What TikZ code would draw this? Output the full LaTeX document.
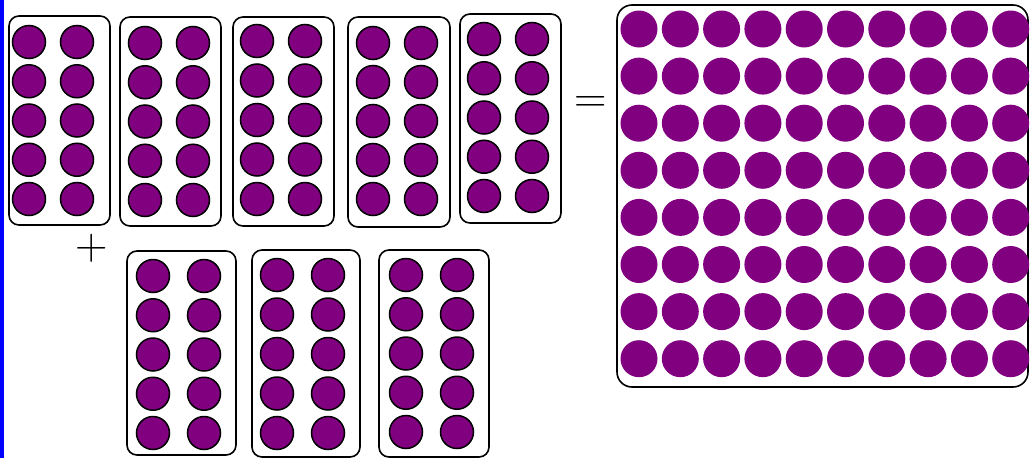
\documentclass[tikz,border=0pt]{standalone}
\usetikzlibrary{calc}
\definecolor{dotpurple}{RGB}{128,0,128}

\begin{document}
\begin{tikzpicture}[x=1pt,y=-1pt,
  frame/.style={draw, line width=1.6pt, rounded corners=10pt},
  dot/.style={draw, fill=dotpurple, line width=1.5pt},
  bigdot/.style={fill=dotpurple},
  sign/.style={font=\fontsize{45}{45}\selectfont, inner sep=0pt}]
  \useasboundingbox (0,0) rectangle (1030,458);
  \fill[blue] (0,0) rectangle (3.5,458);

  \foreach \xa/\ya/\xb/\yb/\ca/\cb/\ra/\dy in {
      9/16/110/225/29/77/42/39.25,
      120/17/221/226/145/193/43/39.25,
      233/17/334/226/257/305/41/39.5,
      348/17/450/227/373/421/43/39,
      460/14/561/223/484/532/39/39.25,
      127/251/236/455/153/204/276/39.25,
      252/250/360/457/277/328/275/39.5,
      379/250/489/457/406/457/275/39.25} {
    \draw[frame] (\xa,\ya) rectangle (\xb,\yb);
    \foreach \k in {0,...,4} {
      \draw[dot] (\ca,\ra+\k*\dy) circle (16.5);
      \draw[dot] (\cb,\ra+\k*\dy) circle (16.5);
    }
  }

  \draw[frame, rounded corners=15pt] (617,5) rectangle (1028,387);
  \foreach \i in {0,...,9}
    \foreach \j in {0,...,7}
      \fill[bigdot] (639+\i*41.3,29+\j*47.1) circle (18.5);

  \node[sign] (plus) at (92,248) {+};
  \node[sign] (equals) at (591,104) {=};
\end{tikzpicture}
\end{document}
